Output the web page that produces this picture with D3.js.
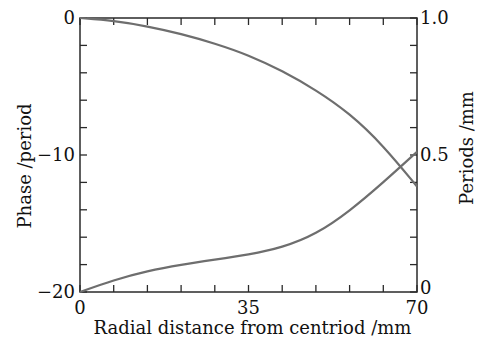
<!DOCTYPE html>
<html lang="en">
<head>
<meta charset="utf-8" />
<title>Phase and periods</title>
<script src="https://d3js.org/d3.v7.min.js"></script>
<style>
    body { margin: 0; background: #fff; }
    text { font-family: "DejaVu Serif", "Liberation Serif", serif; fill: #111; }
    .tick-label { font-size: 18px; }
    .axis-title { font-size: 18px; }
</style>
</head>
<body>
<div id="chart"></div>
<script>
    // radial distance (mm)
    var radius = [0, 7, 14, 21, 28, 35, 42, 49, 56, 63, 70];
    // phase (period), left axis
    var phase = [0, -0.2, -0.6, -1.15, -1.85, -2.7, -3.85, -5.25, -6.95, -9.3, -12.3];
    // spatial frequency (periods/mm), right axis
    var periods = [0, 0.044, 0.077, 0.1, 0.118, 0.136, 0.162, 0.21, 0.295, 0.4, 0.512];

    var xTicks = [0, 35, 70];
    var leftTicks = [0, -10, -20];
    var rightTicks = [0, 0.5, 1.0];

    var width = 479, height = 341;
    var m = { left: 80, right: 62, top: 18, bottom: 49 };

    var svg = d3.select("#chart").append("svg")
        .attr("width", width)
        .attr("height", height);

    var x = d3.scaleLinear().domain([0, 70]).range([m.left, width - m.right]);
    var yL = d3.scaleLinear().domain([-20, 0]).range([height - m.bottom, m.top]);
    var yR = d3.scaleLinear().domain([0, 1]).range([height - m.bottom, m.top]);

    var axisColor = "#2a2a2a";
    var tickLen = 7;

    // frame
    svg.append("rect")
        .attr("x", x(0)).attr("y", yL(0))
        .attr("width", x(70) - x(0)).attr("height", yL(-20) - yL(0))
        .attr("fill", "none").attr("stroke", axisColor).attr("stroke-width", 1.5);

    // ticks pointing inward
    var g = svg.append("g").attr("stroke", axisColor).attr("stroke-width", 1.3);
    d3.range(0, 71, 7).forEach(function (v) {
        g.append("line").attr("x1", x(v)).attr("x2", x(v))
            .attr("y1", yL(-20)).attr("y2", yL(-20) - tickLen);
        g.append("line").attr("x1", x(v)).attr("x2", x(v))
            .attr("y1", yL(0)).attr("y2", yL(0) + tickLen);
    });
    d3.range(-20, 0.1, 2).forEach(function (v) {
        g.append("line").attr("x1", x(0)).attr("x2", x(0) + tickLen)
            .attr("y1", yL(v)).attr("y2", yL(v));
    });
    d3.range(0, 1.01, 0.1).forEach(function (v) {
        g.append("line").attr("x1", x(70)).attr("x2", x(70) - tickLen)
            .attr("y1", yR(v)).attr("y2", yR(v));
    });

    // tick labels
    svg.selectAll(".xl").data(xTicks).enter().append("text")
        .attr("class", "tick-label")
        .attr("x", function (d) { return x(d); })
        .attr("y", yL(-20) + 22)
        .attr("text-anchor", "middle")
        .text(function (d) { return d; });

    svg.selectAll(".ll").data(leftTicks).enter().append("text")
        .attr("class", "tick-label")
        .attr("x", x(0) - 5)
        .attr("y", function (d) { return yL(d) + 6; })
        .attr("text-anchor", "end")
        .text(function (d) { return d === 0 ? "0" : "\u2212" + Math.abs(d); });

    svg.selectAll(".rl").data(rightTicks).enter().append("text")
        .attr("class", "tick-label")
        .attr("x", x(70) + 3)
        .attr("y", function (d) { return yR(d) + (d === 0 ? 2 : 6); })
        .attr("text-anchor", "start")
        .text(function (d) { return d === 0 ? "0" : d.toFixed(1); });

    // axis titles
    svg.append("text").attr("class", "axis-title")
        .attr("x", (x(0) + x(70)) / 2 + 4).attr("y", 334)
        .attr("text-anchor", "middle")
        .text("Radial distance from centriod /mm");

    svg.append("text").attr("class", "axis-title")
        .attr("transform", "translate(31," + 166 + ") rotate(-90)")
        .attr("text-anchor", "middle")
        .text("Phase /period");

    svg.append("text").attr("class", "axis-title")
        .attr("transform", "translate(473," + 148 + ") rotate(-90)")
        .attr("text-anchor", "middle")
        .text("Periods /mm");

    // curves
    var lineL = d3.line()
        .x(function (d, i) { return x(radius[i]); })
        .y(function (d) { return yL(d); })
        .curve(d3.curveBasis);
    var lineR = d3.line()
        .x(function (d, i) { return x(radius[i]); })
        .y(function (d) { return yR(d); })
        .curve(d3.curveBasis);

    svg.append("path").datum(phase).attr("d", lineL)
        .attr("fill", "none").attr("stroke", "#6e6e6e").attr("stroke-width", 2.2);
    svg.append("path").datum(periods).attr("d", lineR)
        .attr("fill", "none").attr("stroke", "#6e6e6e").attr("stroke-width", 2.2);
</script>
</body>
</html>
